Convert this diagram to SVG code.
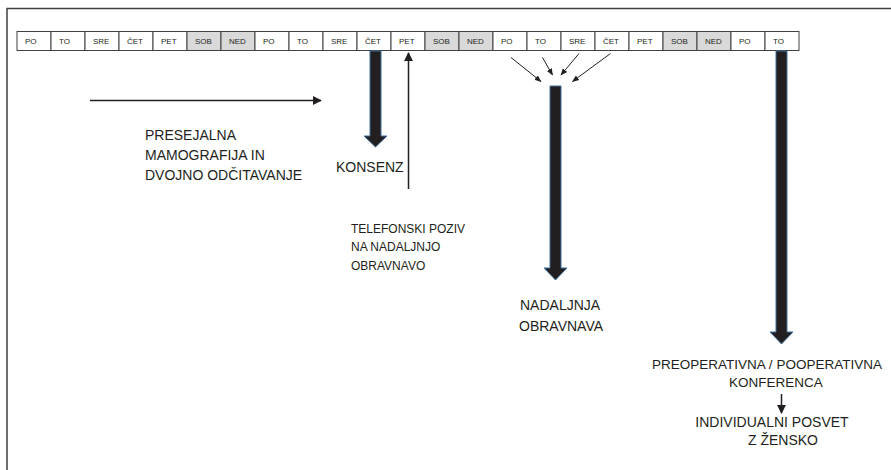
<svg xmlns="http://www.w3.org/2000/svg" width="891" height="470" viewBox="0 0 891 470">
<style>
.cell{fill:#ffffff;stroke:#404040;stroke-width:1}
.we{fill:#d9d9d9}
.ct{font-family:"Liberation Sans",Arial,sans-serif;font-size:8px;fill:#231f20}
.lbl{font-family:"Liberation Sans",Arial,sans-serif;font-size:14px;fill:#231f20}
.sm{font-family:"Liberation Sans",Arial,sans-serif;font-size:12px;fill:#231f20}
.thick{fill:#231f20;stroke:#41719c;stroke-width:1}
.thin{stroke:#231f20;stroke-width:1.5;fill:none}
.hair{stroke:#231f20;stroke-width:1;fill:none}
</style>
<defs>
<marker id="ah" viewBox="0 0 10 10" refX="9" refY="5" markerWidth="6" markerHeight="6" orient="auto" markerUnits="strokeWidth">
<path d="M0,0 L10,5 L0,10 z" fill="#231f20"/>
</marker>
<marker id="ahs" viewBox="0 0 10 10" refX="9" refY="5" markerWidth="7" markerHeight="7" orient="auto" markerUnits="strokeWidth">
<path d="M0,1 L10,5 L0,9 z" fill="#231f20"/>
</marker>
</defs>
<rect width="891" height="470" fill="#ffffff"/>
<g id="frame">
<path d="M7,470 V8.5 H891" fill="none" stroke="#404040" stroke-width="1.5"/>
</g>
<g id="calendar">
<g id="d0"><rect class="cell" x="17" y="31.5" width="34" height="19"/><text class="ct" x="25" y="44">PO</text></g>
<g id="d1"><rect class="cell" x="51" y="31.5" width="34" height="19"/><text class="ct" x="59" y="44">TO</text></g>
<g id="d2"><rect class="cell" x="85" y="31.5" width="34" height="19"/><text class="ct" x="93" y="44">SRE</text></g>
<g id="d3"><rect class="cell" x="119" y="31.5" width="34" height="19"/><text class="ct" x="127" y="44">ČET</text></g>
<g id="d4"><rect class="cell" x="153" y="31.5" width="34" height="19"/><text class="ct" x="161" y="44">PET</text></g>
<g id="d5"><rect class="cell we" x="187" y="31.5" width="34" height="19"/><text class="ct" x="195" y="44">SOB</text></g>
<g id="d6"><rect class="cell we" x="221" y="31.5" width="34" height="19"/><text class="ct" x="229" y="44">NED</text></g>
<g id="d7"><rect class="cell" x="255" y="31.5" width="34" height="19"/><text class="ct" x="263" y="44">PO</text></g>
<g id="d8"><rect class="cell" x="289" y="31.5" width="34" height="19"/><text class="ct" x="297" y="44">TO</text></g>
<g id="d9"><rect class="cell" x="323" y="31.5" width="34" height="19"/><text class="ct" x="331" y="44">SRE</text></g>
<g id="d10"><rect class="cell" x="357" y="31.5" width="34" height="19"/><text class="ct" x="365" y="44">ČET</text></g>
<g id="d11"><rect class="cell" x="391" y="31.5" width="34" height="19"/><text class="ct" x="399" y="44">PET</text></g>
<g id="d12"><rect class="cell we" x="425" y="31.5" width="34" height="19"/><text class="ct" x="433" y="44">SOB</text></g>
<g id="d13"><rect class="cell we" x="459" y="31.5" width="34" height="19"/><text class="ct" x="467" y="44">NED</text></g>
<g id="d14"><rect class="cell" x="493" y="31.5" width="34" height="19"/><text class="ct" x="501" y="44">PO</text></g>
<g id="d15"><rect class="cell" x="527" y="31.5" width="34" height="19"/><text class="ct" x="535" y="44">TO</text></g>
<g id="d16"><rect class="cell" x="561" y="31.5" width="34" height="19"/><text class="ct" x="569" y="44">SRE</text></g>
<g id="d17"><rect class="cell" x="595" y="31.5" width="34" height="19"/><text class="ct" x="603" y="44">ČET</text></g>
<g id="d18"><rect class="cell" x="629" y="31.5" width="34" height="19"/><text class="ct" x="637" y="44">PET</text></g>
<g id="d19"><rect class="cell we" x="663" y="31.5" width="34" height="19"/><text class="ct" x="671" y="44">SOB</text></g>
<g id="d20"><rect class="cell we" x="697" y="31.5" width="34" height="19"/><text class="ct" x="705" y="44">NED</text></g>
<g id="d21"><rect class="cell" x="731" y="31.5" width="34" height="19"/><text class="ct" x="739" y="44">PO</text></g>
<g id="d22"><rect class="cell" x="765" y="31.5" width="34" height="19"/><text class="ct" x="773" y="44">TO</text></g>
</g>
<g id="connectors">
<line class="thin" x1="90" y1="100.5" x2="321" y2="100.5" marker-end="url(#ah)"/>
<polygon class="thick" points="370,51 381,51 381,136 387,136 375.5,147 364,136 370,136"/>
<line class="thin" x1="408.5" y1="189" x2="408.5" y2="53" marker-end="url(#ah)"/>
<line class="hair" x1="511" y1="57.5" x2="541" y2="81.5" marker-end="url(#ahs)"/>
<line class="hair" x1="542.5" y1="57.5" x2="552.5" y2="75" marker-end="url(#ahs)"/>
<line class="hair" x1="579" y1="53.5" x2="561" y2="75" marker-end="url(#ahs)"/>
<line class="hair" x1="610.5" y1="53.5" x2="572.5" y2="81.5" marker-end="url(#ahs)"/>
<polygon class="thick" points="550,86 561,86 561,268 567,268 555.5,280 544,268 550,268"/>
<polygon class="thick" points="776,51 787,51 787,332 793,332 781.5,344 770,332 776,332"/>
<line class="thin" x1="781.5" y1="394" x2="781.5" y2="413" marker-end="url(#ah)"/>
</g>
<g id="n-presejalna">
<text class="lbl" x="145" y="140">PRESEJALNA</text>
<text class="lbl" x="145" y="160">MAMOGRAFIJA IN</text>
<text class="lbl" x="145" y="180">DVOJNO ODČITAVANJE</text>
</g>
<g id="n-konsenz">
<text class="lbl" x="336" y="172">KONSENZ</text>
</g>
<g id="n-telefonski">
<text class="sm" x="351" y="233">TELEFONSKI POZIV</text>
<text class="sm" x="351" y="251">NA NADALJNJO</text>
<text class="sm" x="351" y="269.5">OBRAVNAVO</text>
</g>
<g id="n-nadaljnja">
<text class="lbl" x="520" y="310">NADALJNJA</text>
<text class="lbl" x="519" y="331">OBRAVNAVA</text>
</g>
<g id="n-konferenca">
<text class="lbl" x="767" y="369" text-anchor="middle" style="font-size:13.5px">PREOPERATIVNA / POOPERATIVNA</text>
<text class="lbl" x="776" y="387" text-anchor="middle" style="font-size:13.5px">KONFERENCA</text>
</g>
<g id="n-posvet">
<text class="lbl" x="772" y="427" text-anchor="middle">INDIVIDUALNI POSVET</text>
<text class="lbl" x="783" y="445" text-anchor="middle">Z ŽENSKO</text>
</g>
</svg>
